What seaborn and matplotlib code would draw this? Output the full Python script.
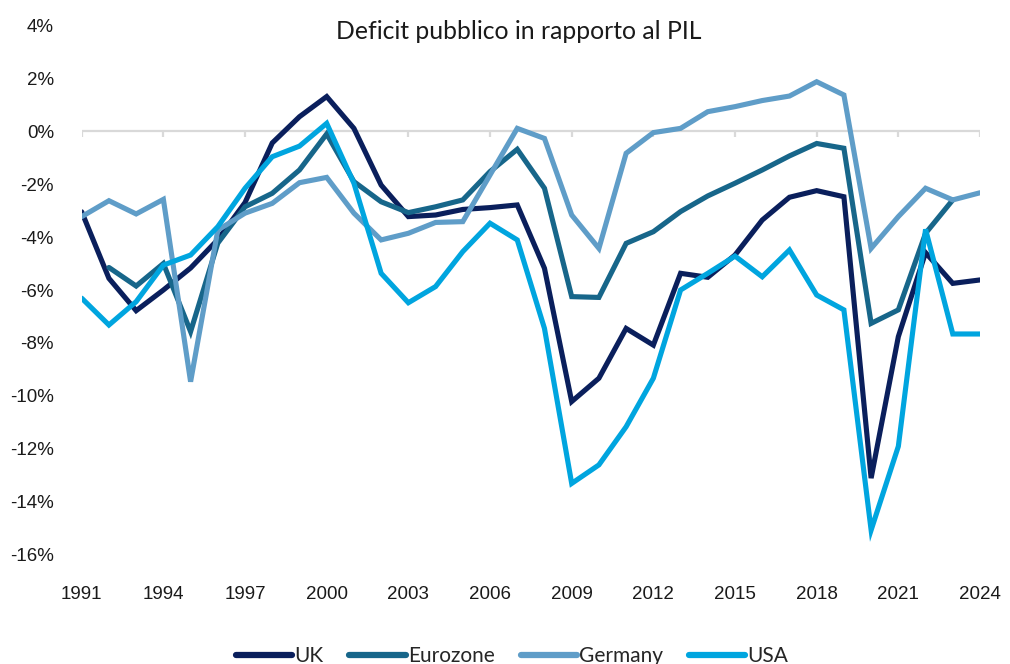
import numpy as np
import pandas as pd
import matplotlib
matplotlib.use("Agg")
import matplotlib.pyplot as plt
import seaborn as sns

years = list(range(1991, 2025))
uk = [-3.05, -5.56, -6.78, -6.0, -5.17, -4.1, -2.7, -0.45, 0.54, 1.3, 0.1, -2.04, -3.23, -3.17,
      -2.96, -2.89, -2.79, -5.18, -10.21, -9.33, -7.45, -8.08, -5.37, -5.52, -4.68, -3.36, -2.5,
      -2.25, -2.48, -13.1, -7.76, -4.59, -5.75, -5.62]
eurozone = [np.nan, -5.15, -5.85, -5.0, -7.57, -4.23, -2.86, -2.35, -1.47, -0.11, -1.91, -2.67,
            -3.08, -2.86, -2.6, -1.53, -0.69, -2.16, -6.25, -6.28, -4.24, -3.8, -3.04, -2.45,
            -1.97, -1.47, -0.94, -0.47, -0.65, -7.26, -6.75, -3.86, -2.6, np.nan]
germany = [-3.23, -2.63, -3.13, -2.58, -9.46, -3.74, -3.1, -2.73, -1.95, -1.75, -3.1, -4.11,
           -3.86, -3.45, -3.42, -1.66, 0.1, -0.28, -3.17, -4.43, -0.84, -0.06, 0.1, 0.73, 0.92,
           1.15, 1.32, 1.86, 1.36, -4.43, -3.23, -2.16, -2.6, -2.33]
usa = [-6.31, -7.32, -6.44, -5.06, -4.68, -3.61, -2.16, -0.97, -0.57, 0.29, -1.97, -5.37, -6.48,
       -5.87, -4.55, -3.48, -4.11, -7.45, -13.3, -12.6, -11.16, -9.33, -6.0, -5.37, -4.72, -5.5,
       -4.49, -6.19, -6.75, -15.06, -11.9, -3.71, -7.66, -7.66]

series_names = ["UK", "Eurozone", "Germany", "USA"]
colors = ["#0a1f5c", "#17668a", "#5f9dc8", "#00a5df"]
xticks = list(range(1991, 2025, 3))
yticks = list(range(-16, 5, 2))
title = "Deficit pubblico in rapporto al PIL"

df = pd.DataFrame({"Anno": years, "UK": uk, "Eurozone": eurozone, "Germany": germany, "USA": usa})
long = df.melt(id_vars="Anno", var_name="Serie", value_name="Valore")

sns.set_style("white")
plt.rcParams["font.family"] = ["Liberation Sans", "DejaVu Sans"]

fig = plt.figure(figsize=(10.10, 6.64), dpi=100)
ax = fig.add_axes([0.0809, 0.1642, 0.8894, 0.7981])

sns.lineplot(data=long, x="Anno", y="Valore", hue="Serie", hue_order=series_names,
             palette=colors, linewidth=3.7, ax=ax, legend=False, solid_joinstyle="miter")

ax.set_xlim(1991, 2024)
ax.set_ylim(-16, 4)
ax.axhline(0, color="#d9d9d9", lw=1.6, zorder=0)
for yr in xticks:
    ax.plot([yr, yr], [0, -0.24], color="#d9d9d9", lw=1.6, zorder=0, solid_capstyle="butt")

ax.set_xticks(xticks)
ax.set_xticklabels([str(t) for t in xticks], fontsize=13.5, color="#1a1a1a")
ax.set_yticks(yticks)
ax.set_yticklabels([f"{t}%" for t in yticks], fontsize=13.5, color="#1a1a1a")
ax.tick_params(axis="x", length=0, pad=22)
ax.tick_params(axis="y", length=0, pad=20)
for s in ax.spines.values():
    s.set_visible(False)
ax.set_xlabel("")
ax.set_ylabel("")
ax.grid(False)

fig.text(0.5135, 0.953, title, ha="center", va="center", fontsize=17.8,
         family=["Lato", "DejaVu Sans"], color="#1a1a1a")

handles = [plt.Line2D([], [], color=c, lw=4.5) for c in colors]
fig.legend(handles, series_names, loc="center", bbox_to_anchor=(0.507, 0.012), ncol=4,
           frameon=False, handlelength=2.7, handletextpad=0.1, columnspacing=1.25,
           prop={"family": ["Lato", "DejaVu Sans"], "size": 15})

fig.savefig("out.png", dpi=100)
